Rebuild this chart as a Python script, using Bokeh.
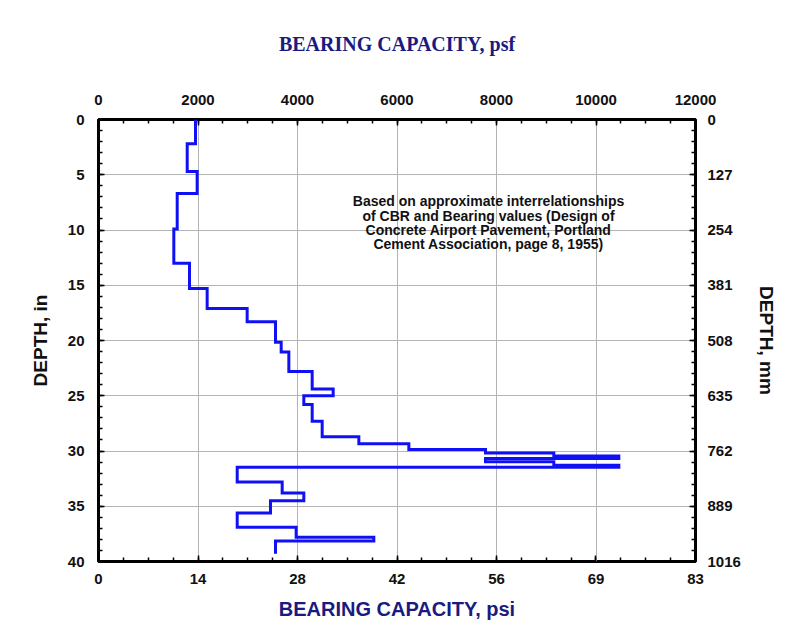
from bokeh.plotting import figure
from bokeh.models import Range1d, LinearAxis, FixedTicker, ColumnDataSource, AllLabels
from bokeh.core.properties import value
from bokeh.embed import file_html
from bokeh.resources import INLINE

# ---- data ----
depth_top = [0, 2.2, 4.7, 6.7, 9.9, 13.0, 15.3, 17.1, 18.3, 20.15, 21.05, 22.8, 24.4,
             25.0, 25.8, 27.3, 28.7, 29.35, 29.87, 30.17, 30.45, 30.68, 30.97, 31.28,
             31.46, 32.8, 33.8, 34.5, 35.6, 36.9, 37.8, 38.15]
depth_end = 39.3
bearing_psf = [1950, 1783, 1983, 1582, 1514, 1829, 2184, 2988, 3558, 3672, 3826, 4295,
               4717, 4127, 4295, 4496, 5233, 6238, 7779, 9152, 10459, 7779, 9152, 10459,
               2788, 3692, 4127, 3457, 2788, 3973, 5534, 3558]

psf_ticks = [0, 2000, 4000, 6000, 8000, 10000, 12000]
psi_labels = ["0", "14", "28", "42", "56", "69", "83"]
depth_ticks = [0, 5, 10, 15, 20, 25, 30, 35, 40]
mm_labels = ["0", "127", "254", "381", "508", "635", "762", "889", "1016"]

note_lines = ["Based on approximate interrelationships",
              "of CBR and Bearing values (Design of",
              "Concrete Airport Pavement, Portland",
              "Cement Association, page 8, 1955)"]
note_x = 7840
note_y = 9.35

# ---- build step polyline ----
depth_bottom = depth_top[1:] + [depth_end]
xs, ys = [], []
for v, t, b in zip(bearing_psf, depth_top, depth_bottom):
    xs += [v, v]
    ys += [t, b]
src = ColumnDataSource(dict(x=xs, y=ys))

W, H = 781, 630
p = figure(width=W, height=H, output_backend="svg", toolbar_location=None,
           x_range=Range1d(0, 12000), y_range=Range1d(40, 0),
           x_axis_location="above", y_axis_location="left",
           min_border_left=98, min_border_top=119, min_border_right=86, min_border_bottom=69,
           background_fill_color="white", border_fill_color="white")
# bottom (psi) axis shares the psf scale; a hair of slack keeps its end label
p.extra_x_ranges = {"psi": Range1d(-0.5, 12000.5)}

p.outline_line_color = "black"
p.outline_line_width = 3

minor_x = list(range(0, 12001, 500))
minor_y = list(range(0, 41))

bottom_ax = LinearAxis(x_range_name="psi")
right_ax = LinearAxis()
p.add_layout(bottom_ax, "below")
p.add_layout(right_ax, "right")

top_ax = p.xaxis[0]
left_ax = p.yaxis[0]

for ax in (top_ax, bottom_ax):
    ax.ticker = FixedTicker(ticks=psf_ticks, minor_ticks=minor_x)
for ax in (left_ax, right_ax):
    ax.ticker = FixedTicker(ticks=depth_ticks, minor_ticks=minor_y)

bottom_ax.major_label_overrides = {t: l for t, l in zip(psf_ticks, psi_labels)}
right_ax.major_label_overrides = {t: l for t, l in zip(depth_ticks, mm_labels)}

for ax in (top_ax, bottom_ax, left_ax, right_ax):
    ax.major_label_policy = AllLabels()
    ax.axis_line_color = None
    ax.major_tick_in = 6
    ax.major_tick_out = 0
    ax.minor_tick_in = 4
    ax.minor_tick_out = 0
    ax.major_tick_line_color = "black"
    ax.major_tick_line_width = 1.5
    ax.minor_tick_line_color = "black"
    ax.minor_tick_line_width = 1.5
    ax.major_label_text_font = "Liberation Sans"
    ax.major_label_text_font_style = "bold"
    ax.major_label_text_font_size = "15px"
    ax.major_label_text_color = "#111111"
    ax.major_label_standoff = 12
    ax.axis_label_text_font_style = "bold"

top_ax.major_label_standoff = 15
left_ax.major_label_standoff = 14

top_ax.axis_label = "BEARING CAPACITY, psf"
top_ax.axis_label_text_font = "Liberation Serif"
top_ax.axis_label_text_font_size = "20px"
top_ax.axis_label_text_color = "#1a1a80"
top_ax.axis_label_standoff = 37

bottom_ax.axis_label = "BEARING CAPACITY, psi"
bottom_ax.axis_label_text_font = "Liberation Sans"
bottom_ax.axis_label_text_font_size = "20px"
bottom_ax.axis_label_text_color = "#1a1a80"
bottom_ax.axis_label_standoff = 11

left_ax.axis_label = "DEPTH, in"
left_ax.axis_label_text_font = "Liberation Sans"
left_ax.axis_label_text_font_size = "19px"
left_ax.axis_label_text_color = "#111111"
left_ax.axis_label_standoff = 14

right_ax.axis_label = "DEPTH, mm"
right_ax.axis_label_text_font = "Liberation Sans"
right_ax.axis_label_text_font_size = "19px"
right_ax.axis_label_text_color = "#111111"
right_ax.axis_label_standoff = 12

p.xgrid.ticker = FixedTicker(ticks=psf_ticks)
p.ygrid.ticker = FixedTicker(ticks=depth_ticks)
for g in (p.xgrid[0], p.ygrid[0]):
    g.grid_line_color = "#b4b4b4"
    g.grid_line_width = 1

p.line("x", "y", source=src, line_color="#1010f5", line_width=3, line_join="miter")

p.text(x=[note_x], y=[note_y], text=["\n".join(note_lines)],
       text_font=value("Liberation Sans"), text_font_style="bold",
       text_font_size="14px", text_align="center", text_baseline="middle",
       text_line_height=0.9, text_color="#111111")

open("out.html", "w").write(file_html(p, INLINE))
